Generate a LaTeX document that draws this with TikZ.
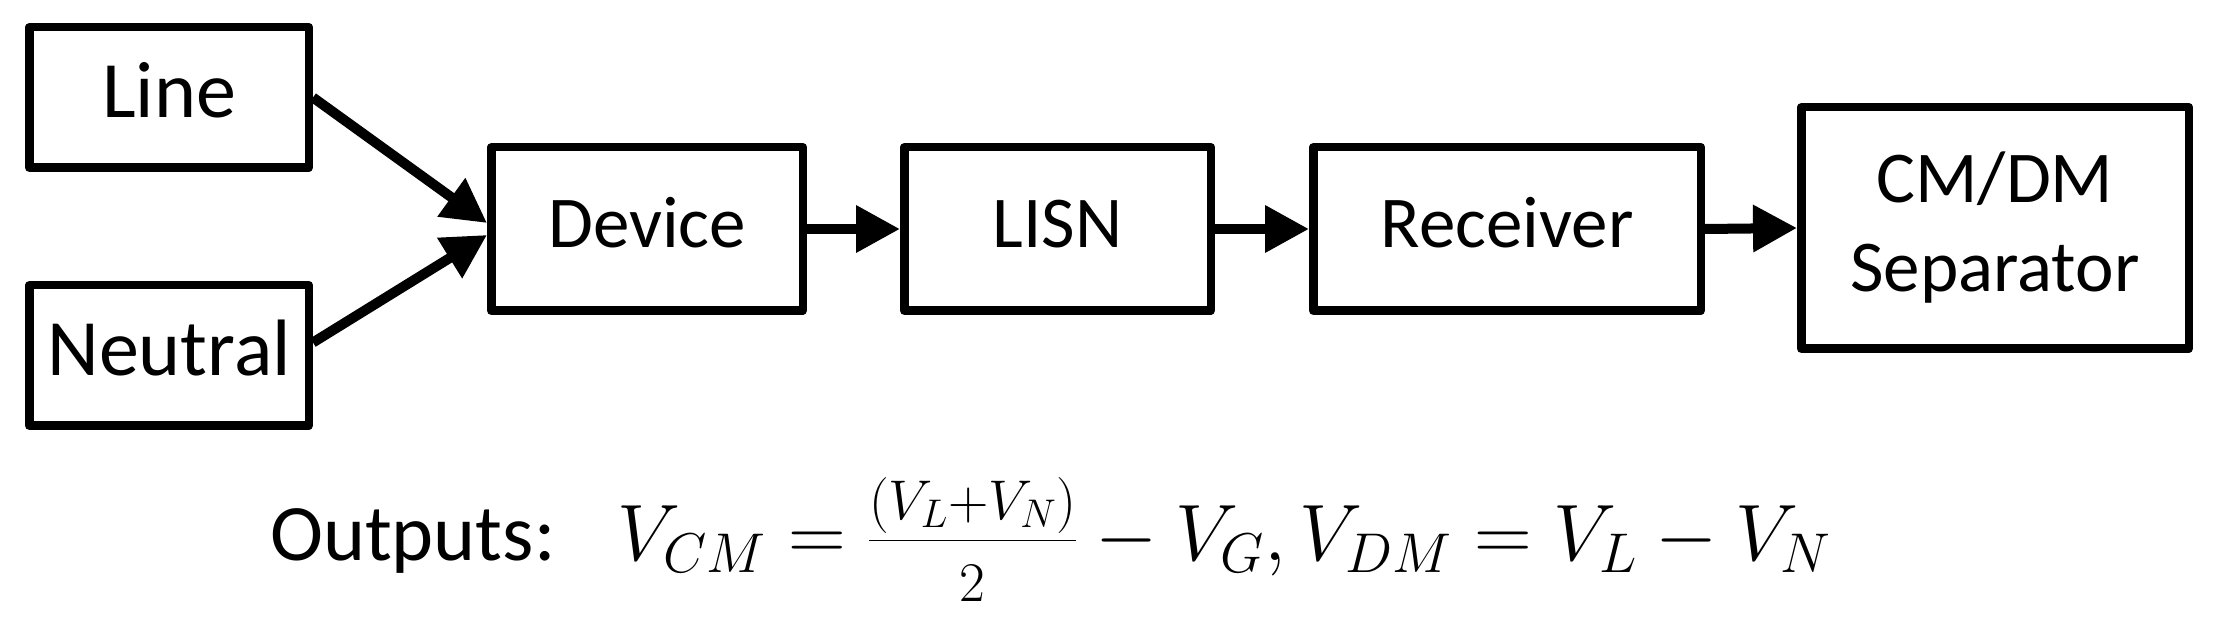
\RequirePackage{fix-cm}
\documentclass[tikz,border=0pt]{standalone}
\usepackage{fontspec}
\setmainfont{Carlito}
\usetikzlibrary{arrows.meta}
\begin{document}
\begin{tikzpicture}[x=1pt,y=-1pt,
  box/.style={draw=black, line width=8.5pt, line join=round, rectangle, inner sep=0pt, align=center,
    font=\fontsize{73}{89}\selectfont},
  onel/.style={text height=55pt, text depth=18pt},
  big/.style={font=\fontsize{80}{96}\selectfont, text height=60pt, text depth=20pt},
  arr/.style={line width=10pt, -{Triangle[length=44pt,width=45pt]}}]
\useasboundingbox (0,0) rectangle (2217,617);
\node[box, big, minimum width=279.5pt, minimum height=140.5pt] (line) at (169,97.5) {Line};
\node[box, big, minimum width=279.5pt, minimum height=140.5pt] (neutral) at (169,355.5) {Neutral};
\node[box, onel, minimum width=311.5pt, minimum height=163.5pt] (device) at (647,229) {Device};
\node[box, onel, minimum width=306.5pt, minimum height=163.5pt] (lisn) at (1057.5,229) {LISN};
\node[box, onel, minimum width=387.5pt, minimum height=163.5pt] (receiver) at (1507,229) {Receiver};
\node[box, minimum width=387.5pt, minimum height=241.5pt] (sep) at (1995,228) {CM/DM\\Separator};
\draw[arr] (line.east) -- ([yshift=6pt]device.west);
\draw[arr] ([yshift=13pt]neutral.east) -- ([yshift=-6pt]device.west);
\draw[arr] (device.east) -- (lisn.west);
\draw[arr] (lisn.east) -- (receiver.west);
\draw[arr] (receiver.east) -- (sep.west);
\node[anchor=base west, inner sep=0pt, font=\fontsize{80}{96}\selectfont] (out) at (270,560)
  {Outputs:\hspace{62pt}$V_{CM}=\frac{\raisebox{9pt}{$\scriptstyle(V_L+V_N)$}}{\raisebox{-14pt}{$\scriptstyle 2$}}-V_G,V_{DM}=V_L-V_N$};
\end{tikzpicture}
\end{document}
